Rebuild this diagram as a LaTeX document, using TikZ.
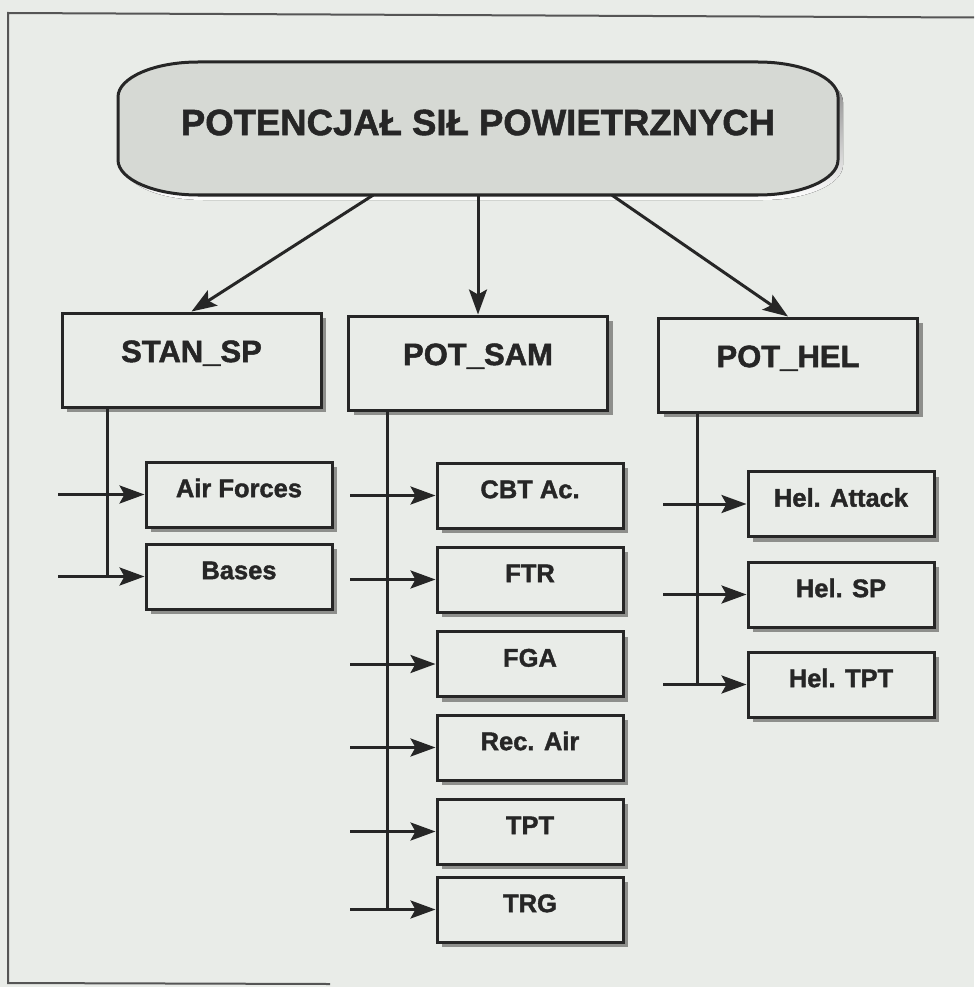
\documentclass[tikz,border=0pt]{standalone}
\usepackage{fontspec}
\setmainfont[BoldFeatures={FakeBold=1.5}]{Liberation Sans}
\usetikzlibrary{arrows.meta,shadows}

\definecolor{paper}{HTML}{E9ECE8}
\definecolor{ink}{HTML}{262626}
\definecolor{shade}{HTML}{8E8F8C}
\definecolor{capfill}{HTML}{D6D9D4}
\definecolor{framegray}{HTML}{555555}

\begin{document}
\begin{tikzpicture}[x=1pt,y=-1pt,
  box/.style={draw=ink, fill=paper, line width=3pt, text=ink, inner sep=0pt,
    drop shadow={shadow xshift=5pt, shadow yshift=-5pt, fill=shade, opacity=1}},
  midbox/.style={box, minimum width=259pt, minimum height=94pt,
    font=\fontsize{31}{31}\selectfont\bfseries, text height=22.2pt, text depth=18pt},
  leaf/.style={box, minimum width=186pt, minimum height=65pt,
    font=\fontsize{25.5}{26}\selectfont\bfseries, text height=18.3pt, text depth=13pt},
  link/.style={draw=ink, line width=3pt},
  arr/.style={link, -{Stealth[length=25pt, width=18pt, inset=5pt]}},
  frame/.style={draw=framegray, line width=2pt}
]
% page and its size
\fill[paper] (0,0) rectangle (974,987);
\useasboundingbox (0,0) rectangle (974,987);

% outer frame
\draw[frame] (974,17.5) -- (8,13) -- (8,983) -- (330,984);

% rounded title box: shadow, then body
\fill[shade, shift={(5,5)}] (198,62) -- (758,62)
  .. controls (802,62) and (838,77.75) .. (838,97) -- (838,160)
  .. controls (838,179.25) and (802,195) .. (758,195) -- (198,195)
  .. controls (154,195) and (118,179.25) .. (118,160) -- (118,97)
  .. controls (118,77.75) and (154,62) .. (198,62) -- cycle;
\filldraw[fill=capfill, draw=ink, line width=3pt] (198,62) -- (758,62)
  .. controls (802,62) and (838,77.75) .. (838,97) -- (838,160)
  .. controls (838,179.25) and (802,195) .. (758,195) -- (198,195)
  .. controls (154,195) and (118,179.25) .. (118,160) -- (118,97)
  .. controls (118,77.75) and (154,62) .. (198,62) -- cycle;
\node[font=\fontsize{36.5}{37}\selectfont\bfseries, text=ink, inner sep=0pt,
      minimum width=720pt, minimum height=133pt, text height=26.2pt, text depth=13pt]
  (top) at (478,128.5) {POTENCJAŁ SIŁ POWIETRZNYCH};

% second level
\node[midbox] (stan) at (191.5,360) {STAN\_SP};
\node[midbox] (sam)  at (478,363)   {POT\_SAM};
\node[midbox] (hel)  at (788,365)   {POT\_HEL};

\draw[arr] ([xshift=-105pt]top.south) -- (stan.north);
\draw[arr] (top.south) -- (sam.north);
\draw[arr] ([xshift=134pt]top.south) -- (hel.north);

% leaves of STAN_SP
\node[leaf] (af)    at (239,494.5) {Air Forces};
\node[leaf] (bases) at (239,576.5) {Bases};

% leaves of POT_SAM
\node[leaf] (cbt) at (530,495.5) {CBT Ac.};
\node[leaf] (ftr) at (530,579.5) {FTR};
\node[leaf] (fga) at (530,664)   {FGA};
\node[leaf] (rec) at (530,747.5) {Rec. Air};
\node[leaf] (tpt) at (530,831.5) {TPT};
\node[leaf] (trg) at (530,909.5) {TRG};

% leaves of POT_HEL
\node[leaf] (hatk) at (841,504)   {Hel. Attack};
\node[leaf] (hsp)  at (841,594.5) {Hel. SP};
\node[leaf] (htpt) at (841,684.5) {Hel. TPT};

% trunk lines and feeder starts
\coordinate (s1) at (107,0);
\coordinate (a1) at (58,0);
\coordinate (s2) at (387,0);
\coordinate (a2) at (350,0);
\coordinate (s3) at (697,0);
\coordinate (a3) at (663,0);

\draw[link] (stan.south -| s1) -- (bases.west -| s1);
\foreach \n in {af,bases}
  \draw[arr] (\n.west -| a1) -- (\n.west);

\draw[link] (sam.south -| s2) -- (trg.west -| s2);
\foreach \n in {cbt,ftr,fga,rec,tpt,trg}
  \draw[arr] (\n.west -| a2) -- (\n.west);

\draw[link] (hel.south -| s3) -- (htpt.west -| s3);
\foreach \n in {hatk,hsp,htpt}
  \draw[arr] (\n.west -| a3) -- (\n.west);
\end{tikzpicture}
\end{document}
